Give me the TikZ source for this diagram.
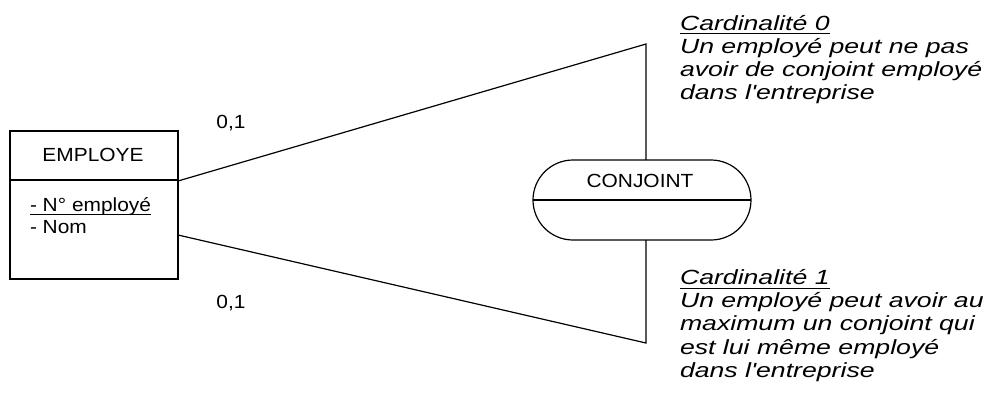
\documentclass[tikz,border=0pt]{standalone}
\usepackage{fontspec}
\setmainfont{Liberation Sans}
\newfontfamily\uprt[FakeStretch=1.1]{Liberation Sans}
\newfontfamily\itl[FakeStretch=1.3]{Liberation Sans}
\begin{document}
\begin{tikzpicture}[x=1pt,y=-1pt,
  every node/.style={inner sep=0pt, outer sep=0pt},
  lbl/.style={font=\uprt\fontsize{19}{22}\selectfont},
  note/.style={font=\itl\itshape\fontsize{20.5}{23.3}\selectfont, anchor=base west},
  wire/.style={line width=1.2pt, line join=miter},
  uline/.style={line width=1pt}]
\useasboundingbox (0,0) rectangle (987,410);

% entity EMPLOYE
\node[draw, line width=1.2pt, minimum width=168pt, minimum height=148pt] (emp) at (94,205) {};
\draw[wire] (emp.west |- 0,180) -- (emp.east |- 0,180);
\node[lbl, anchor=base] (empt) at (93,161) {EMPLOYE};
\node[lbl, anchor=base west] (id) at (30,211) {- N° employé};
\draw[uline] ([yshift=-3.3pt]id.base west) -- ([yshift=-3.3pt]id.base east);
\node[lbl, anchor=base west] (nom) at (30,233) {- Nom};

% relation CONJOINT
\node[draw, line width=1.2pt, rounded corners=40pt, minimum width=218pt, minimum height=80pt] (conj) at (642,200) {};
\draw[wire] (conj.west) -- (conj.east);
\node[lbl, anchor=base] (conjt) at (640,187) {CONJOINT};

% links
\coordinate (e0) at (178,181);
\coordinate (e1) at (178,235);
\coordinate (c0) at (646,44);
\coordinate (c1) at (646,343);
\draw[wire] (e0) -- (c0) -- (conj.north -| c0);
\draw[wire] (e1) -- (c1) -- (conj.south -| c1);

% cardinalities
\node[lbl, anchor=base] (k0) at (231,128) {0,1};
\node[lbl, anchor=base] (k1) at (231,308) {0,1};

% notes
\node[note] (h0) at (680,30) {Cardinalité 0};
\draw[uline] ([yshift=-3.3pt]h0.base west) -- ([yshift=-3.3pt]h0.base east);
\node[note] (t0) at (680,53.3) {\begin{tabular}[t]{@{}l@{}}Un employé peut ne pas\\avoir de conjoint employé\\dans l'entreprise\end{tabular}};

\node[note] (h1) at (680,284.3) {Cardinalité 1};
\draw[uline] ([yshift=-3.8pt]h1.base west) -- ([yshift=-3.8pt]h1.base east);
\node[note] (t1) at (680,307.6) {\begin{tabular}[t]{@{}l@{}}Un employé peut avoir au\\maximum un conjoint qui\\est lui même employé\\dans l'entreprise\end{tabular}};
\end{tikzpicture}
\end{document}
